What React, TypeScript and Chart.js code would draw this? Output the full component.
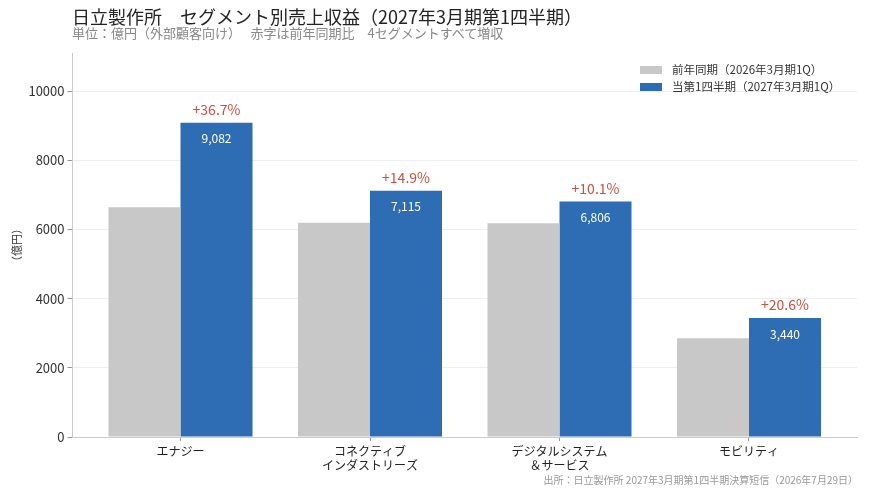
import { useEffect, useRef } from 'react';
import { Chart, registerables } from 'chart.js';

Chart.register(...registerables);

// データ（億円）
const segments = [['エナジー'], ['コネクティブ', 'インダストリーズ'], ['デジタルシステム', '＆サービス'], ['モビリティ']];
const prevYear = [6644, 6192, 6182, 2852];
const currYear = [9082, 7115, 6806, 3440];
const growthLabels = ['+36.7%', '+14.9%', '+10.1%', '+20.6%'];
const yTicks = [0, 2000, 4000, 6000, 8000, 10000];

const FONT = '"Noto Sans CJK JP", "Noto Sans", sans-serif';
const GRAY = '#c8c8c8';
const BLUE = '#2e6db4';
const RED = '#c9503f';

// 青棒の上に伸び率、中に値を描く
const barLabels = {
  id: 'barLabels',
  afterDatasetsDraw(chart: Chart) {
    const ctx = chart.ctx;
    const meta = chart.getDatasetMeta(1);
    ctx.save();
    ctx.textAlign = 'center';
    ctx.textBaseline = 'middle';
    meta.data.forEach((bar: any, i: number) => {
      ctx.fillStyle = RED;
      ctx.font = `14px ${FONT}`;
      ctx.fillText(growthLabels[i], bar.x, bar.y - 13);
      ctx.fillStyle = '#ffffff';
      ctx.font = `12px ${FONT}`;
      ctx.fillText(currYear[i].toLocaleString('en-US'), bar.x, bar.y + 16);
    });
    ctx.restore();
  },
};

function SegmentChart() {
  const canvasRef = useRef<HTMLCanvasElement>(null);

  useEffect(() => {
    if (!canvasRef.current) return;
    const chart = new Chart(canvasRef.current, {
      type: 'bar',
      data: {
        datasets: [
          {
            label: '前年同期（2026年3月期1Q）',
            data: prevYear.map((v, i) => ({ x: i, y: v })),
            backgroundColor: GRAY,
            categoryPercentage: 0.76,
            barPercentage: 1.0,
          },
          {
            label: '当第1四半期（2027年3月期1Q）',
            data: currYear.map((v, i) => ({ x: i, y: v })),
            backgroundColor: BLUE,
            categoryPercentage: 0.76,
            barPercentage: 1.0,
          },
        ],
      },
      options: {
        animation: false,
        responsive: false,
        layout: { padding: { left: 0, top: 53, right: 13, bottom: 0 } },
        plugins: {
          legend: { display: false },
          tooltip: { enabled: false },
        },
        scales: {
          x: {
            type: 'linear',
            min: -0.57,
            max: 3.57,
            offset: false,
            afterBuildTicks: (scale: any) => {
              scale.ticks = segments.map((_, i) => ({ value: i }));
            },
            afterFit: (scale: any) => {
              scale.height = 56;
            },
            ticks: {
              callback: (v: any) => segments[v] ?? '',
              color: '#222',
              font: { family: FONT, size: 12 },
              padding: 3,
              maxRotation: 0,
              autoSkip: false,
            },
            grid: { offset: false, drawOnChartArea: false, tickLength: 4, color: '#999' },
            border: { color: '#cccccc' },
          },
          y: {
            min: 0,
            max: 11100,
            afterBuildTicks: (scale: any) => {
              scale.ticks = yTicks.map((v) => ({ value: v }));
            },
            afterFit: (scale: any) => {
              scale.width = 72.5;
            },
            ticks: {
              callback: (v: any) => String(v),
              color: '#333',
              font: { family: FONT, size: 13 },
              padding: 3,
            },
            grid: { color: '#eeeeee', tickColor: '#999', tickLength: 5 },
            border: { color: '#cccccc' },
            title: {
              display: true,
              text: '（億円）',
              color: '#333',
              font: { family: FONT, size: 11 },
              padding: { top: 10, bottom: 0 },
            },
          },
        },
      },
      plugins: [barLabels],
    });
    return () => chart.destroy();
  }, []);

  return <canvas ref={canvasRef} width={870} height={493} style={{ position: 'absolute', left: 0, top: 0 }} />;
}

export default function App() {
  return (
    <div style={{ position: 'fixed', left: 0, top: 0, width: 870, height: 493, background: '#fff', fontFamily: FONT }}>
      <SegmentChart />
      <div style={{ position: 'absolute', left: 72, top: 4, fontSize: 18, color: '#222', whiteSpace: 'nowrap', lineHeight: '24px' }}>
        日立製作所　セグメント別売上収益（2027年3月期第1四半期）
      </div>
      <div style={{ position: 'absolute', left: 72, top: 25, fontSize: 13, color: '#888', whiteSpace: 'nowrap', lineHeight: '16px' }}>
        単位：億円（外部顧客向け）　 赤字は前年同期比　4セグメントすべて増収
      </div>
      <div style={{ position: 'absolute', left: 640, top: 61, fontSize: 11.5, color: '#333', lineHeight: '17px' }}>
        <div style={{ display: 'flex', alignItems: 'center' }}>
          <span style={{ display: 'inline-block', width: 22, height: 8, background: GRAY, marginRight: 10 }} />
          前年同期（2026年3月期1Q）
        </div>
        <div style={{ display: 'flex', alignItems: 'center' }}>
          <span style={{ display: 'inline-block', width: 22, height: 8, background: BLUE, marginRight: 10 }} />
          当第1四半期（2027年3月期1Q）
        </div>
      </div>
      <div style={{ position: 'absolute', right: 12, top: 473, fontSize: 10, color: '#999', whiteSpace: 'nowrap', lineHeight: '14px' }}>
        出所：日立製作所 2027年3月期第1四半期決算短信（2026年7月29日）
      </div>
    </div>
  );
}
